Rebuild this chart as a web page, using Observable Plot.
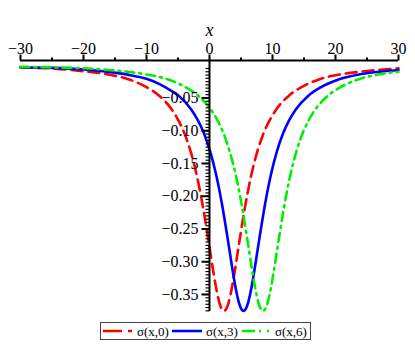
<!DOCTYPE html>
<html><head><meta charset="utf-8">
<script src="https://cdn.jsdelivr.net/npm/d3@7"></script>
<script src="https://cdn.jsdelivr.net/npm/@observablehq/plot@0.6"></script>
<style>
body{margin:0;background:#fff;width:415px;height:351px;overflow:hidden;position:relative;font-family:"Liberation Serif","Times New Roman","DejaVu Serif",serif;}
#chart{position:absolute;left:0;top:0;}
#legend{position:absolute;left:100px;top:322px;}
svg text{font-family:"Liberation Serif","Times New Roman","DejaVu Serif",serif !important;}
</style></head><body>
<div id="chart"></div>
<div id="legend"></div>
<script>
const seriesNames = ["σ(x,0)", "σ(x,3)", "σ(x,6)"];
const seriesColors = ["#ff0000", "#0000ff", "#00ee00"];

const redX = [-30,-25,-20,-16,-13,-10,-8,-6,-5,-4,-3,-2,-1,-0.4,0,0.6,1,1.6,2,2.3,2.6,3,3.6,4,4.6,5,5.6,6.6,7.6,8.6,9.6,10.6,12.6,14.6,17.6,20.6,24.6,30];
const redY = [-0.0035,-0.005,-0.0092,-0.0142,-0.021,-0.0335,-0.0465,-0.0675,-0.083,-0.1035,-0.1315,-0.169,-0.2185,-0.2535,-0.278,-0.315,-0.3375,-0.3635,-0.373,-0.375,-0.373,-0.3635,-0.3375,-0.315,-0.278,-0.2535,-0.2185,-0.169,-0.1315,-0.1035,-0.083,-0.0675,-0.0465,-0.0335,-0.021,-0.0142,-0.0092,-0.0048];

const blueX = [-30,-25,-20,-16,-13,-10,-8,-6,-4.9,-2.9,-1.9,-0.9,0.1,1.1,2.1,2.7,3.1,3.7,4.1,4.7,5.1,5.4,5.7,6.1,6.7,7.1,7.7,8.1,8.7,9.7,10.7,11.7,12.7,13.7,15.7,17.7,20.7,23.7,27.7,30];
const blueY = [-0.003,-0.004,-0.0065,-0.0102,-0.0144,-0.0208,-0.0285,-0.0395,-0.0465,-0.0675,-0.083,-0.1035,-0.1315,-0.169,-0.2185,-0.2535,-0.278,-0.315,-0.3375,-0.3635,-0.373,-0.375,-0.373,-0.3635,-0.3375,-0.315,-0.278,-0.2535,-0.2185,-0.169,-0.1315,-0.1035,-0.083,-0.0675,-0.0465,-0.0335,-0.021,-0.0142,-0.0092,-0.0072];

const greenX = [-30,-25,-20,-16,-13,-10,-7,-4,-1.8,0.2,1.2,2.2,3.2,4.2,5.2,5.8,6.2,6.8,7.2,7.8,8.2,8.5,8.8,9.2,9.8,10.2,10.8,11.2,11.8,12.8,13.8,14.8,15.8,16.8,18.8,20.8,23.8,26.8,30];
const greenY = [-0.0025,-0.0033,-0.0047,-0.0072,-0.01,-0.0142,-0.0205,-0.0325,-0.0465,-0.0675,-0.083,-0.1035,-0.1315,-0.169,-0.2185,-0.2535,-0.278,-0.315,-0.3375,-0.3635,-0.373,-0.375,-0.373,-0.3635,-0.3375,-0.315,-0.278,-0.2535,-0.2185,-0.169,-0.1315,-0.1035,-0.083,-0.0675,-0.0465,-0.0335,-0.021,-0.0142,-0.01];

const xMajor = [-30,-20,-10,0,10,20,30];
const xMinor = [-25,-15,-5,5,15,25];
const yMajor = [-0.05,-0.10,-0.15,-0.20,-0.25,-0.30,-0.35];
const yTop = 0.0072, yBottom = -0.376;
const yMinor = d3.range(-0.005, -0.3751, -0.005);

const FONT = "'Liberation Serif', 'Times New Roman', 'DejaVu Serif', serif";
const mk = (xs, ys, s) => xs.map((x, i) => ({x, y: ys[i], s}));
const red = mk(redX, redY, seriesNames[0]);
const blue = mk(blueX, blueY, seriesNames[1]);
const green = mk(greenX, greenY, seriesNames[2]);

const hTick = len => ({draw(ctx){ ctx.moveTo(-len, 0); ctx.lineTo(0, 0); }});
const vTick = len => ({draw(ctx){ ctx.moveTo(0, 0); ctx.lineTo(0, -len); }});
const fx = d3.format("d"), fy = d3.format(".2f");

const chart = Plot.plot({
  width: 415, height: 318,
  marginLeft: 20, marginRight: 17, marginTop: 60, marginBottom: 7,
  style: {fontFamily: FONT, fontSize: "16px", background: "white", overflow: "visible"},
  x: {domain: [-30, 30], axis: null},
  y: {domain: [yBottom, yTop], axis: null},
  marks: [
    Plot.line(red, {x: "x", y: "y", stroke: seriesColors[0], strokeWidth: 2.6, strokeDasharray: "11,6", curve: "monotone-x"}),
    Plot.line(blue, {x: "x", y: "y", stroke: seriesColors[1], strokeWidth: 2.6, curve: "monotone-x"}),
    Plot.line(green, {x: "x", y: "y", stroke: seriesColors[2], strokeWidth: 2.6, strokeDasharray: "9,5,2,5", curve: "monotone-x"}),
    Plot.ruleY([yTop], {stroke: "black", strokeWidth: 2}),
    Plot.ruleX([0], {stroke: "black", strokeWidth: 2}),
    Plot.dot(xMajor, {x: d => d, y: yTop, symbol: vTick(6), stroke: "black", strokeWidth: 2, fill: "none"}),
    Plot.dot(xMinor, {x: d => d, y: yTop, symbol: vTick(3), stroke: "black", strokeWidth: 2, fill: "none"}),
    Plot.dot(yMinor, {x: 0, y: d => d, symbol: hTick(4), stroke: "black", strokeWidth: 1.2, fill: "none"}),
    Plot.dot(yMajor, {x: 0, y: d => d, symbol: hTick(8), stroke: "black", strokeWidth: 2, fill: "none"}),
    Plot.text(xMajor, {x: d => d, y: yTop, text: d => fx(d), lineAnchor: "bottom", dy: -7, fontSize: 16, fontFamily: FONT}),
    Plot.text(yMajor, {x: 0, y: d => d, text: d => fy(d), textAnchor: "end", dx: -11, fontSize: 16, fontFamily: FONT}),
    Plot.text(["x"], {x: 0, y: yTop, text: d => d, lineAnchor: "bottom", dy: -25, fontSize: 18, fontStyle: "italic", fontFamily: FONT})
  ]
});
document.getElementById("chart").appendChild(chart);

// legend
const lg = d3.select("#legend").append("svg").attr("width", 212).attr("height", 19)
  .style("font-family", FONT).style("font-size", "13px");
lg.append("rect").attr("x", 0.5).attr("y", 0.5).attr("width", 210).attr("height", 17)
  .attr("fill", "white").attr("stroke", "#444").attr("stroke-width", 1);
const items = [
  {x0: 3, x1: 32, tx: 37, dash: "19,6,4,20"},
  {x0: 72, x1: 102, tx: 106, dash: null},
  {x0: 142, x1: 171, tx: 175, dash: "13,4,2,6,2,20"}
];
items.forEach((it, i) => {
  const l = lg.append("line").attr("x1", it.x0).attr("x2", it.x1).attr("y1", 9).attr("y2", 9)
    .attr("stroke", seriesColors[i]).attr("stroke-width", 2.6);
  if (it.dash) l.attr("stroke-dasharray", it.dash);
  lg.append("text").attr("x", it.tx).attr("y", 13.5).attr("font-family", FONT).text(seriesNames[i]);
});
</script>
</body></html>
